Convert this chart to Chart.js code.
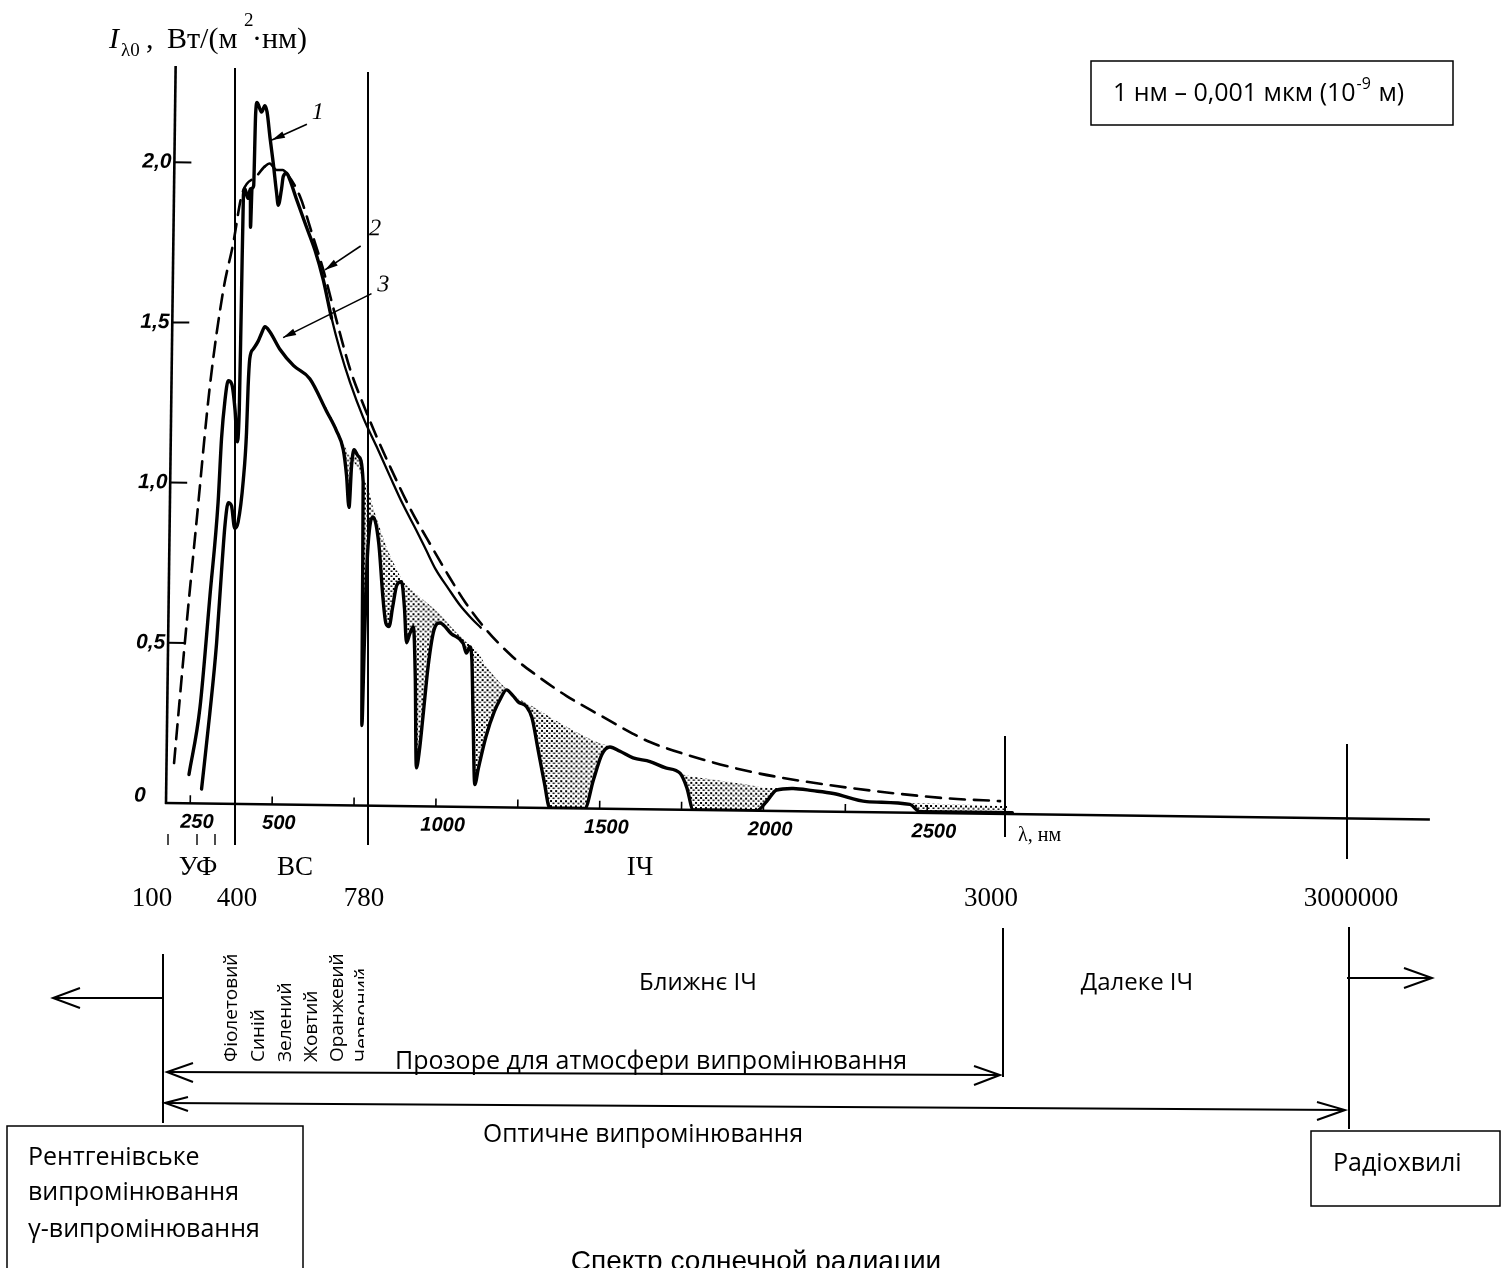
<!DOCTYPE html>
<html lang="uk">
<head>
<meta charset="utf-8">
<title>Спектр солнечной радиации</title>
<script src="https://cdn.jsdelivr.net/npm/chart.js@4.4.0/dist/chart.umd.min.js"></script>
<style>
  html, body { margin: 0; padding: 0; background: #fff; overflow: hidden; }
  #spectrum { display: block; }
</style>
</head>
<body>
<canvas id="spectrum" width="1504" height="1268"></canvas>
<script>
// curve 2 - black body (dashed), Вт/(м2·нм) against λ, нм
const blackBodyNm = [199, 227, 258, 293, 330, 359, 383, 428, 452, 467, 488, 507, 519, 560, 600, 635, 662, 689, 721, 763, 805, 846, 909, 980, 1030, 1084, 1150, 1229, 1300, 1395, 1500, 1599, 1651, 1794, 1957, 2100, 2263, 2420, 2569, 2722];
const blackBodyI = [0.125, 0.50, 0.88, 1.30, 1.60, 1.75, 1.90, 1.96, 1.99, 2.00, 1.98, 1.98, 1.97, 1.90, 1.78, 1.67, 1.57, 1.47, 1.36, 1.25, 1.15, 1.06, 0.93, 0.805, 0.72, 0.635, 0.55, 0.47, 0.415, 0.35, 0.29, 0.235, 0.21, 0.163, 0.122, 0.097, 0.075, 0.058, 0.046, 0.04];

// curve 1 - outside the atmosphere
const outerNm = [245, 276, 302, 323, 331, 340, 349, 360, 371, 379, 384, 386, 388, 392, 402, 409, 411, 414, 419, 422, 426, 440, 450, 457, 467, 478, 489, 495, 504, 509, 519, 529, 550, 583, 609, 635, 662, 689, 721, 763, 805, 846, 888, 930, 960, 990, 1030, 1065, 1100, 1130];
const outerI = [0.09, 0.30, 0.65, 0.94, 1.14, 1.26, 1.32, 1.31, 1.23, 1.13, 1.23, 1.55, 1.90, 1.92, 1.89, 1.92, 1.80, 1.92, 1.93, 2.15, 2.19, 2.16, 2.18, 2.16, 2.08, 2.00, 1.91, 1.87, 1.92, 1.96, 1.97, 1.95, 1.89, 1.80, 1.73, 1.64, 1.52, 1.42, 1.32, 1.21, 1.12, 1.03, 0.94, 0.86, 0.80, 0.74, 0.68, 0.63, 0.59, 0.56];

// curve 3 - at sea level
const seaNm = [284, 306, 324, 336, 345, 354, 364, 375, 385, 399, 407, 410, 414, 424, 439, 449, 459, 474, 506, 548, 598, 650, 681, 703, 714, 723, 729, 736, 749, 765, 768, 771, 775, 780, 786, 797, 815, 830, 840, 850, 860, 872, 886, 896, 904, 914, 924, 932, 939, 947, 957, 971, 987, 1005, 1040, 1077, 1087, 1097, 1104, 1110, 1118, 1128, 1150, 1175, 1191, 1211, 1230, 1247, 1273, 1290, 1310, 1330, 1348, 1455, 1480, 1505, 1529, 1560, 1600, 1652, 1700, 1744, 1765, 1786, 1979, 2010, 2039, 2090, 2150, 2213, 2315, 2447, 2478, 2760];
const seaI = [0.045, 0.28, 0.50, 0.72, 0.87, 0.94, 0.93, 0.86, 0.88, 1.01, 1.16, 1.30, 1.39, 1.42, 1.445, 1.47, 1.49, 1.475, 1.42, 1.37, 1.33, 1.23, 1.17, 1.11, 1.03, 0.93, 1.06, 1.11, 1.09, 1.01, 0.60, 0.25, 0.50, 0.75, 0.86, 0.90, 0.82, 0.65, 0.57, 0.56, 0.62, 0.69, 0.70, 0.62, 0.51, 0.54, 0.56, 0.40, 0.12, 0.17, 0.28, 0.44, 0.55, 0.573, 0.54, 0.51, 0.48, 0.50, 0.46, 0.28, 0.07, 0.12, 0.22, 0.30, 0.335, 0.367, 0.35, 0.33, 0.315, 0.28, 0.18, 0.08, 0.0, 0.0, 0.09, 0.17, 0.193, 0.18, 0.16, 0.149, 0.13, 0.114, 0.07, 0.0, 0.0, 0.03, 0.065, 0.071, 0.065, 0.057, 0.033, 0.026, 0.004, 0.004];

// upper edge of the stippled absorption bands
const absorbNm = [598, 650, 681, 703, 723, 750, 771, 780, 797, 810, 838, 870, 886, 935, 983, 1005, 1050, 1080, 1118, 1148, 1211, 1250, 1293, 1396, 1498, 1529, 1600, 1652, 1700, 1754, 1856, 1957, 2009, 2090, 2213, 2315, 2447, 2600, 2745];
const absorbI = [1.33, 1.24, 1.18, 1.13, 1.09, 1.05, 1.01, 0.99, 0.93, 0.89, 0.81, 0.74, 0.71, 0.66, 0.62, 0.60, 0.55, 0.52, 0.49, 0.44, 0.37, 0.34, 0.315, 0.254, 0.204, 0.195, 0.162, 0.15, 0.132, 0.11, 0.094, 0.08, 0.072, 0.072, 0.058, 0.035, 0.03, 0.028, 0.025];

const yTicks = [0, 0.5, 1.0, 1.5, 2.0];
const yTickLabels = ['0', '0,5', '1,0', '1,5', '2,0'];
const xTicks = [250, 500, 750, 1000, 1250, 1500, 1750, 2000, 2250, 2500];
const xTickLabels = ['250', '500', '', '1000', '', '1500', '', '2000', '', '2500'];
const curveNames = ['1', '2', '3'];

const bandNames = ['УФ', 'ВС', 'ІЧ'];
const bandEdgeLabels = ['100', '400', '780', '3000', '3000000'];
const colourNames = ['Фіолетовий', 'Синій', 'Зелений', 'Жовтий', 'Оранжевий', 'Червоний'];

const SERIF = '"Liberation Serif", "DejaVu Serif", serif';
const SANS = '"Open Sans", "Noto Sans", sans-serif';
const TICKFONT = '"Liberation Sans", Arial, sans-serif';
const TILT = 0.75 * Math.PI / 180;   // the scanned graph sits a little askew

const pts = (xs, ys) => xs.map((x, i) => ({x: x, y: ys[i]}));

const canvas = document.getElementById('spectrum');
const ctx0 = canvas.getContext('2d');

function stipple() {
    const c = document.createElement('canvas');
    c.width = 5; c.height = 5;
    const g = c.getContext('2d');
    g.fillStyle = '#000';
    g.fillRect(0, 0, 2, 2);
    g.fillRect(2.5, 2.5, 2, 1.5);
    return ctx0.createPattern(c, 'repeat');
}

function seg(ctx, x1, y1, x2, y2, w) {
    ctx.lineWidth = w;
    ctx.beginPath();
    ctx.moveTo(x1, y1);
    ctx.lineTo(x2, y2);
    ctx.stroke();
}

function vee(ctx, tx, ty, ax, ay, bx, by, w) {
    ctx.lineWidth = w;
    ctx.beginPath();
    ctx.moveTo(ax, ay);
    ctx.lineTo(tx, ty);
    ctx.lineTo(bx, by);
    ctx.stroke();
}

function pointer(ctx, x1, y1, x2, y2) {
    seg(ctx, x1, y1, x2, y2, 1.6);
    const a = Math.atan2(y2 - y1, x2 - x1);
    ctx.beginPath();
    ctx.moveTo(x2, y2);
    ctx.lineTo(x2 - 13 * Math.cos(a) + 3.5 * Math.sin(a), y2 - 13 * Math.sin(a) - 3.5 * Math.cos(a));
    ctx.lineTo(x2 - 13 * Math.cos(a) - 3.5 * Math.sin(a), y2 - 13 * Math.sin(a) + 3.5 * Math.cos(a));
    ctx.closePath();
    ctx.fill();
}

const figure = {
    id: 'figure',
    beforeDraw(chart) {
        const {ctx, chartArea: a} = chart;
        ctx.save();
        ctx.translate(a.left, a.bottom);
        ctx.rotate(TILT);
        ctx.translate(-a.left, -a.bottom);
    },
    beforeDatasetsDraw(chart) {
        const {ctx, chartArea: a, scales: {x, y}} = chart;
        ctx.save();
        ctx.strokeStyle = '#000';
        ctx.fillStyle = '#000';
        // axes
        seg(ctx, a.left, a.bottom + 1, a.left, a.top, 2.6);
        seg(ctx, a.left - 1, a.bottom, a.right, a.bottom, 2.6);
        // y ticks point inwards
        ctx.font = 'italic bold 21px ' + TICKFONT;
        ctx.textAlign = 'left';
        ctx.textBaseline = 'middle';
        yTicks.forEach((v, i) => {
            const py = y.getPixelForValue(v);
            if (v > 0) seg(ctx, a.left, py, a.left + 17, py, 2);
            ctx.fillText(yTickLabels[i], a.left - 32, Math.min(py, a.bottom - 7));
        });
        // x ticks
        ctx.font = 'italic bold 20px ' + TICKFONT;
        ctx.textAlign = 'center';
        xTicks.forEach((v, i) => {
            const px = x.getPixelForValue(v);
            seg(ctx, px, a.bottom, px, a.bottom - 8, 1.6);
            if (xTickLabels[i]) ctx.fillText(xTickLabels[i], px + 7, a.bottom + 19);
        });
        // curve numbers with pointers
        const marks = [
            {at: [612, 2.16], from: [579, 2.124], to: [473, 2.073]},
            {at: [791, 1.80], from: [748, 1.746], to: [640, 1.67]},
            {at: [819, 1.625], from: [783, 1.598], to: [515, 1.457]}
        ];
        ctx.font = 'italic 24px ' + SERIF;
        marks.forEach((m, i) => {
            ctx.fillText(curveNames[i], x.getPixelForValue(m.at[0]), y.getPixelForValue(m.at[1]));
            pointer(ctx, x.getPixelForValue(m.from[0]), y.getPixelForValue(m.from[1]),
                x.getPixelForValue(m.to[0]), y.getPixelForValue(m.to[1]));
        });
        ctx.restore();
    },
    afterDraw(chart) {
        const ctx = chart.ctx;
        ctx.restore();   // back to the upright page
        ctx.save();
        ctx.strokeStyle = '#000';
        ctx.fillStyle = '#000';

        // axis title
        ctx.textAlign = 'left';
        ctx.textBaseline = 'alphabetic';
        ctx.font = 'italic 30px ' + SERIF;
        ctx.fillText('I', 109, 48);
        ctx.font = '19px ' + SERIF;
        ctx.fillText('λ0', 121, 56);
        ctx.font = '30px ' + SERIF;
        ctx.fillText(',', 146, 48);
        ctx.fillText('Вт/(м', 167, 48);
        ctx.font = '19px ' + SERIF;
        ctx.fillText('2', 244, 26);
        ctx.font = '30px ' + SERIF;
        ctx.fillText('·нм)', 252, 48);

        // unit note
        ctx.lineWidth = 1.5;
        ctx.strokeRect(1091, 61, 362, 64);
        ctx.font = '25px ' + SANS;
        ctx.fillText('1 нм – 0,001 мкм (10', 1113, 101);
        const w = ctx.measureText('1 нм – 0,001 мкм (10').width;
        ctx.font = '16px ' + SANS;
        ctx.fillText('-9', 1113 + w + 1, 89);
        const w2 = ctx.measureText('-9').width;
        ctx.font = '25px ' + SANS;
        ctx.fillText(' м)', 1113 + w + w2 + 2, 101);

        // band dividers
        seg(ctx, 235, 68, 235, 845, 2);
        seg(ctx, 368, 72, 368, 845, 2);
        seg(ctx, 1005, 736, 1005, 837, 2);
        seg(ctx, 1347, 744, 1347, 859, 2);
        [168, 197, 215].forEach(px => seg(ctx, px, 834, px, 845, 1.4));

        ctx.font = '20px ' + SERIF;
        ctx.fillText('λ, нм', 1018, 841);

        ctx.font = '27px ' + SERIF;
        ctx.textAlign = 'center';
        [198, 295, 640].forEach((px, i) => ctx.fillText(bandNames[i], px, 875));
        [152, 237, 364, 991, 1351].forEach((px, i) => ctx.fillText(bandEdgeLabels[i], px, 906));

        // lower scheme
        seg(ctx, 163, 954, 163, 1123, 2);
        seg(ctx, 1003, 928, 1003, 1077, 2);
        seg(ctx, 1349, 927, 1349, 1129, 2);

        seg(ctx, 163, 998, 53, 998, 2);
        vee(ctx, 53, 998, 80, 988, 80, 1008, 2);
        seg(ctx, 1347, 978, 1432, 978, 2);
        vee(ctx, 1432, 978, 1404, 968, 1404, 988, 2);

        seg(ctx, 167, 1072, 1000, 1075, 2);
        vee(ctx, 167, 1072, 193, 1063, 193, 1082, 2);
        vee(ctx, 1000, 1075, 974, 1066, 974, 1085, 2);

        seg(ctx, 165, 1103, 1345, 1110, 2);
        vee(ctx, 165, 1103, 188, 1097, 188, 1111, 2);
        vee(ctx, 1345, 1110, 1317, 1102, 1317, 1120, 2);

        ctx.font = '24px ' + SANS;
        ctx.fillText('Ближнє ІЧ', 698, 990, 118);
        ctx.fillText('Далеке ІЧ', 1137, 990, 120);
        ctx.textAlign = 'left';
        ctx.font = '25px ' + SANS;
        ctx.fillText('Прозоре для атмосфери випромінювання', 395, 1069, 520);
        ctx.textAlign = 'center';
        ctx.fillText('Оптичне випромінювання', 643, 1142, 320);

        // visible colours, written upwards
        ctx.font = '19px ' + SANS;
        ctx.textAlign = 'left';
        [237, 264, 290.5, 316.5, 343, 368].forEach((px, i) => {
            ctx.save();
            if (i === colourNames.length - 1) {
                ctx.beginPath();
                ctx.rect(340, 940, 24, 130);
                ctx.clip();
            }
            ctx.translate(px, 1062);
            ctx.rotate(-Math.PI / 2);
            ctx.fillText(colourNames[i], 0, 0);
            ctx.restore();
        });

        // end boxes
        ctx.lineWidth = 1.5;
        ctx.strokeRect(7, 1126, 296, 160);
        ctx.strokeRect(1311, 1131, 189, 75);
        ctx.font = '25px ' + SANS;
        ctx.fillText('Рентгенівське', 28, 1165, 172);
        ctx.fillText('випромінювання', 28, 1200, 211);
        ctx.fillText('γ-випромінювання', 28, 1237, 232);
        ctx.fillText('Радіохвилі', 1333, 1171, 130);

        ctx.font = '28px ' + TICKFONT;
        ctx.textAlign = 'center';
        ctx.fillText('Спектр солнечной радиации', 756, 1270);
        ctx.restore();
    }
};

new Chart(canvas, {
    type: 'line',
    data: {
        datasets: [{
            label: '2',
            data: pts(blackBodyNm, blackBodyI),
            borderColor: '#000',
            borderWidth: 2.6,
            borderDash: [15, 9],
            segment: {
                borderDash: c => (c.p0.parsed.x >= 452 && c.p1.parsed.x <= 519) ? [] : undefined
            }
        }, {
            label: '1',
            data: pts(outerNm, outerI),
            borderColor: '#000',
            borderWidth: 3.4,
            segment: {
                borderWidth: c => c.p0.parsed.x >= 640 ? 2.3 : undefined
            }
        }, {
            label: '3',
            data: pts(seaNm, seaI),
            borderColor: '#000',
            borderWidth: 3.4
        }, {
            label: 'absorption',
            data: pts(absorbNm, absorbI),
            borderWidth: 0,
            borderColor: 'rgba(0,0,0,0)',
            backgroundColor: stipple(),
            fill: 2
        }]
    },
    options: {
        responsive: false,
        animation: false,
        events: [],
        layout: {padding: {left: 166, right: 74, top: 66, bottom: 465}},
        elements: {
            point: {radius: 0},
            line: {cubicInterpolationMode: 'monotone', borderJoinStyle: 'round', borderCapStyle: 'round'}
        },
        scales: {
            x: {type: 'linear', min: 176, max: 4035, display: false},
            y: {type: 'linear', min: 0, max: 2.3, display: false}
        },
        plugins: {
            legend: {display: false},
            tooltip: {enabled: false},
            filler: {propagate: false}
        }
    },
    plugins: [figure]
});
</script>
</body>
</html>
